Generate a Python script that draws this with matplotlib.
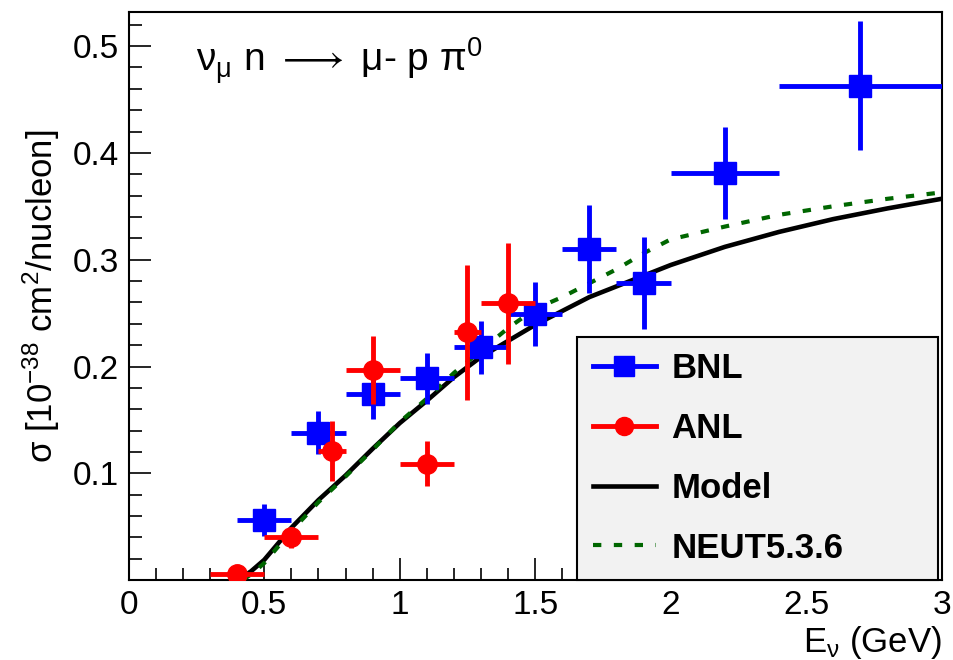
import numpy as np
import matplotlib
matplotlib.use("Agg")
import matplotlib.pyplot as plt
from matplotlib.lines import Line2D
from matplotlib.ticker import MultipleLocator

plt.rcParams["font.family"] = ["Liberation Sans", "DejaVu Sans"]
plt.rcParams["mathtext.fontset"] = "custom"
plt.rcParams["mathtext.rm"] = "Liberation Sans"
plt.rcParams["mathtext.it"] = "Liberation Sans"
plt.rcParams["mathtext.fallback"] = "stixsans"

# BNL data
bnl_e = [0.5, 0.7, 0.9, 1.1, 1.3, 1.5, 1.7, 1.9, 2.2, 2.7]
bnl_ex = [0.1, 0.1, 0.1, 0.1, 0.1, 0.1, 0.1, 0.1, 0.2, 0.3]
bnl_sig = [0.056, 0.138, 0.174, 0.189, 0.218, 0.249, 0.310, 0.278, 0.381, 0.463]
bnl_err = [0.015, 0.020, 0.023, 0.024, 0.025, 0.030, 0.041, 0.043, 0.043, 0.060]

# ANL data
anl_e = [0.4, 0.6, 0.75, 0.9, 1.1, 1.25, 1.4]
anl_ex = [0.1, 0.1, 0.05, 0.1, 0.1, 0.05, 0.1]
anl_sig = [0.006, 0.040, 0.121, 0.197, 0.109, 0.232, 0.259]
anl_err = [0.006, 0.010, 0.028, 0.032, 0.021, 0.063, 0.057]

# model curves
model_e = [0.4, 0.45, 0.5, 0.6, 0.7, 0.8, 0.9, 1.0, 1.1, 1.2, 1.3, 1.4, 1.5,
           1.6, 1.7, 1.8, 1.9, 2.0, 2.2, 2.4, 2.6, 2.8, 3.0]
model_sig = [0.0, 0.008, 0.019, 0.049, 0.075, 0.098, 0.123, 0.147, 0.168, 0.190,
             0.209, 0.224, 0.239, 0.252, 0.265, 0.275, 0.285, 0.295, 0.312,
             0.326, 0.338, 0.348, 0.357]
neut_e = [0.42, 0.46, 0.5, 0.6, 0.7, 0.8, 0.9, 1.0, 1.1, 1.2, 1.3, 1.4, 1.5,
          1.6, 1.7, 1.8, 1.9, 2.0, 2.2, 2.4, 2.6, 2.8, 3.0]
neut_sig = [0.0, 0.007, 0.016, 0.046, 0.073, 0.097, 0.122, 0.148, 0.170, 0.194,
            0.215, 0.236, 0.254, 0.265, 0.278, 0.291, 0.306, 0.319, 0.331,
            0.342, 0.350, 0.357, 0.363]

xticks = [0, 0.5, 1, 1.5, 2, 2.5, 3]
xticklabels = ["0", "0.5", "1", "1.5", "2", "2.5", "3"]
yticks = [0.1, 0.2, 0.3, 0.4, 0.5]
yticklabels = ["0.1", "0.2", "0.3", "0.4", "0.5"]

blue = "#0000ff"
red = "#ff0000"
green = "#006600"

fig = plt.figure(figsize=(9.54, 6.6), dpi=100)
ax = fig.add_axes([0.135, 0.121, 0.852, 0.861])

ax.plot(model_e, model_sig, color="black", lw=3.3, zorder=3)
ax.plot(neut_e, neut_sig, color=green, lw=3, dashes=(2.0, 3.0), zorder=4)

ax.errorbar(bnl_e, bnl_sig, xerr=bnl_ex, yerr=bnl_err, fmt="s", color=blue,
            ms=16, elinewidth=3.5, capsize=0, zorder=5)
ax.errorbar(anl_e, anl_sig, xerr=anl_ex, yerr=anl_err, fmt="o", color=red,
            ms=14, elinewidth=3.5, capsize=0, zorder=6)

ax.set_xlim(0, 3)
ax.set_ylim(0, 0.532)
ax.set_xticks(xticks)
ax.set_xticklabels(xticklabels)
ax.xaxis.set_minor_locator(MultipleLocator(0.1))
ax.set_yticks(yticks)
ax.set_yticklabels(yticklabels)
ax.yaxis.set_minor_locator(MultipleLocator(0.02))
ax.tick_params(which="both", direction="in", labelsize=24, width=1.2)
ax.tick_params(which="major", length=16, pad=7)
ax.tick_params(which="minor", length=9)
for s in ax.spines.values():
    s.set_linewidth(1.5)

ax.set_ylabel(r"σ [10$^{\mathregular{-38}}$ cm$^{\mathregular{2}}$/nucleon]",
              fontsize=25, labelpad=8)
ax.set_xlabel(r"E$_{\mathregular{ν}}$ (GeV)", fontsize=25, loc="right",
              labelpad=2)

ax.text(0.083, 0.893,
        r"ν$_{\mathregular{μ}}$ n $\longrightarrow$ μ- p π$^{\mathregular{0}}$",
        transform=ax.transAxes, fontsize=28, va="baseline")

handles = [
    Line2D([], [], color=blue, lw=3.5, marker="s", ms=14),
    Line2D([], [], color=red, lw=3.5, marker="o", ms=13),
    Line2D([], [], color="black", lw=3.3),
    Line2D([], [], color=green, lw=3, dashes=(2.0, 3.0)),
]
labels = ["BNL", "ANL", "Model", "NEUT5.3.6"]
leg = ax.legend(handles, labels,
                loc="lower left", bbox_to_anchor=(0.552, 0.0, 0.443, 0.423),
                mode="expand", borderaxespad=0, fancybox=False, framealpha=1,
                facecolor="#f2f2f2", edgecolor="black",
                prop={"weight": "bold", "size": 25},
                labelspacing=0.77, handlelength=1.8, handletextpad=0.45,
                borderpad=0.45)
leg.get_frame().set_linewidth(1.5)
leg.set_zorder(10)

fig.savefig("out.png", dpi=100)
